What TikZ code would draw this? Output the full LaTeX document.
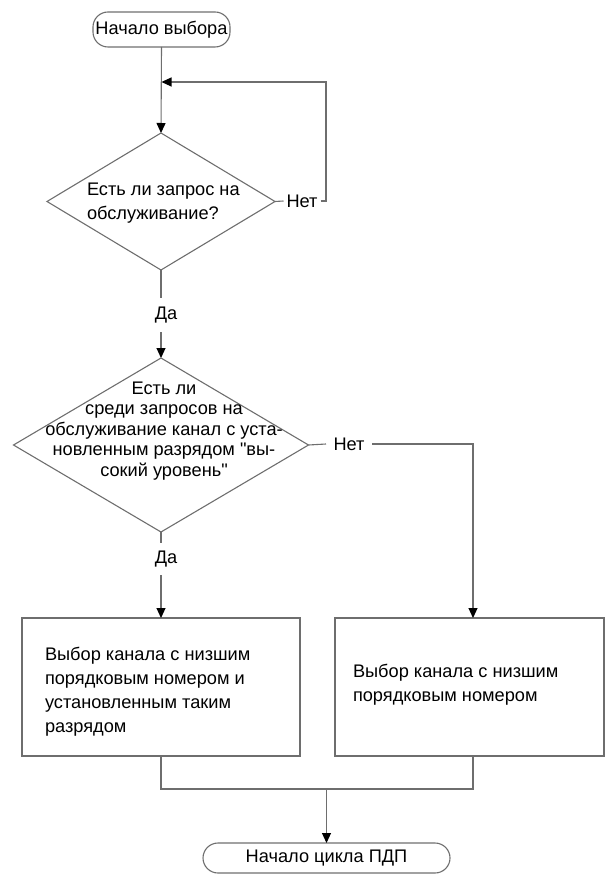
\documentclass[tikz,border=0pt]{standalone}
\usepackage{fontspec}
\setmainfont{Liberation Sans}[Ligatures=TeXOff]
\usetikzlibrary{shapes.geometric,arrows.meta}
\definecolor{edge}{RGB}{110,110,110}
\begin{document}
\begin{tikzpicture}[x=1pt,y=-1pt,
  every node/.style={font=\fontsize{18.2}{20}\selectfont, text=black},
  line/.style={draw=edge, line width=1.1pt},
  arr/.style={line, -{Triangle[length=10pt,width=9pt,fill=black,color=black]}},
  term/.style={draw=edge, line width=1.1pt, rounded corners=15pt, inner sep=0pt, outer sep=0pt},
  decision/.style={diamond, draw=edge, line width=1.1pt, inner sep=0pt, outer sep=0pt},
  proc/.style={draw=edge, line width=1.1pt, inner sep=0pt, outer sep=0pt},
  lbl/.style={inner sep=0pt, outer sep=0pt}]
\useasboundingbox (0,0) rectangle (605,874);

% start / end terminals
\node[term, minimum width=137pt, minimum height=35pt] (start) at (161.5,29.5) {Начало выбора};
\node[term, minimum width=247pt, minimum height=30pt] (stop) at (326.5,858) {Начало цикла ПДП};

% decisions
\node[decision, minimum width=228pt, minimum height=137pt] (d1) at (161,201.5) {};
\node[lbl, anchor=west, align=left, font=\fontsize{18.2}{24}\selectfont] at (87,203) {Есть ли запрос на\\обслуживание?};

\node[decision, minimum width=295pt, minimum height=174pt] (d2) at (161,445) {};
\node[lbl, align=center, font=\fontsize{18.2}{20.5}\selectfont] at (164,431) {Есть ли\\среди запросов на\\обслуживание канал с уста-\\новленным разрядом "вы-\\сокий уровень"};

% processes
\node[proc, minimum width=278pt, minimum height=138pt] (lb) at (161,687) {};
\node[lbl, anchor=west, align=left, font=\fontsize{18.2}{24}\selectfont] at (45,692) {Выбор канала с низшим\\порядковым номером и\\установленным таким\\разрядом};
\node[proc, minimum width=269pt, minimum height=138pt] (rb) at (469.5,687) {};
\node[lbl, anchor=west, align=left, font=\fontsize{18.2}{24}\selectfont] at (353,684.5) {Выбор канала с низшим\\порядковым номером};

% branch labels
\node[lbl, minimum width=37pt, minimum height=34pt] (yes1) at (166,315) {Да};
\node[lbl, minimum width=37pt, minimum height=32pt] (yes2) at (166,559) {Да};
\node[lbl, minimum width=37pt, minimum height=14pt] (no1) at (302,201) {Нет};
\node[lbl, minimum width=46pt, minimum height=14pt] (no2) at (349,444) {Нет};

\coordinate (loop) at (326,82);
\coordinate (rx) at (473,0);
\coordinate (join) at (326.5,789);

% connectors
\draw[arr] (start.south) -- (d1.north);
\draw[line] (d1.east) -- (no1.west);
\draw[arr] (no1.east) -| (loop) -- (loop -| start.south);
\draw[line] (d1.south) -- (d1.south |- yes1.north);
\draw[arr] (d1.south |- yes1.south) -- (d2.north);
\draw[line] (d2.east) -- (no2.west);
\draw[arr] (no2.east) -| (rx |- rb.north);
\draw[line] (d2.south) -- (d2.south |- yes2.north);
\draw[arr] (d2.south |- yes2.south) -- (lb.north);
\draw[line] (lb.south) |- (join) -| (rx |- rb.south);
\draw[arr] (join) -- (stop.north);
\end{tikzpicture}
\end{document}
